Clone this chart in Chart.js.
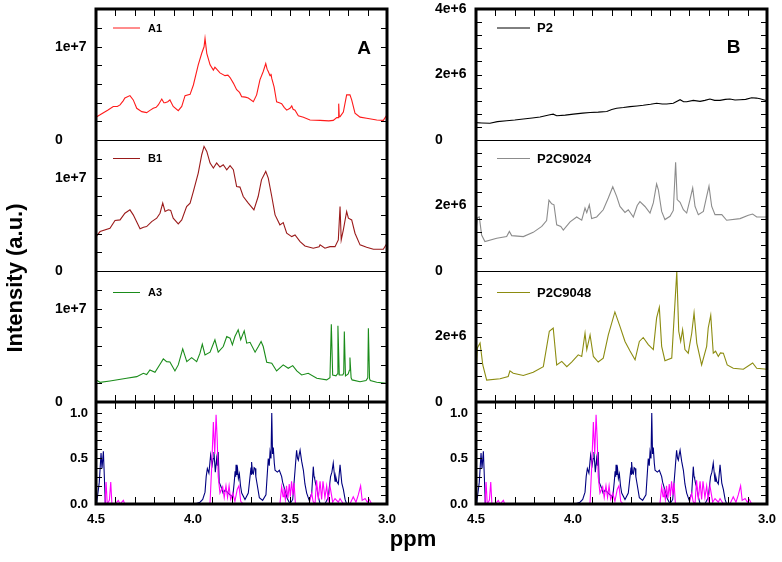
<!DOCTYPE html>
<html>
<head>
<meta charset="utf-8">
<script src="https://cdn.jsdelivr.net/npm/chart.js@4.4.0/dist/chart.umd.min.js"></script>
<style>
  body { margin: 0; background: #fff; width: 782px; height: 562px; position: relative; overflow: hidden;
         font-family: "Liberation Sans", Arial, sans-serif; }
  canvas { position: absolute; top: 0; }
  #chartA { left: 0; }
  #chartB { left: 391px; }
  .ytitle { position: absolute; left: -104.6px; top: 266.5px; width: 240px; height: 22px; line-height: 22px;
            text-align: center; font-weight: bold; font-size: 22px; transform: rotate(-90deg); }
  .xtitle { position: absolute; left: 313px; top: 528px; width: 200px; height: 22px; line-height: 22px;
            text-align: center; font-weight: bold; font-size: 22px; }
</style>
</head>
<body>
<canvas id="chartB" width="391" height="562"></canvas>
<canvas id="chartA" width="400" height="562"></canvas>
<div class="ytitle">Intensity (a.u.)</div>
<div class="xtitle">ppm</div>

<script>
// spectra as [ppm, intensity] ; A/B intensities in units of 1e6
const A1 = [[4.500,2.45],[4.479,2.7],[4.440,3.2],[4.411,3.6],[4.390,3.6],[4.376,3.76],[4.360,4.2],[4.351,4.5],[4.325,4.76],[4.308,4.3],[4.290,3.4],[4.264,3.04],[4.239,2.94],[4.220,3.2],[4.205,3.4],[4.190,3.5],[4.179,3.76],[4.161,4.4],[4.150,4.0],[4.144,4.0],[4.130,4.1],[4.119,4.3],[4.102,3.6],[4.076,3.15],[4.058,3.6],[4.041,4.76],[4.015,4.9],[3.998,5.9],[3.973,8.06],[3.955,9.3],[3.943,10.0],[3.938,10.9],[3.929,9.3],[3.912,8.06],[3.895,7.5],[3.887,7.8],[3.878,7.6],[3.861,7.2],[3.835,6.9],[3.820,6.95],[3.809,6.7],[3.792,6.1],[3.775,5.4],[3.760,5.1],[3.749,4.65],[3.730,4.6],[3.715,4.5],[3.689,4.1],[3.672,4.84],[3.655,6.45],[3.638,7.35],[3.625,8.2],[3.618,7.6],[3.612,7.35],[3.603,6.9],[3.598,7.1],[3.594,6.6],[3.582,5.7],[3.569,4.1],[3.555,4.0],[3.543,3.9],[3.530,3.5],[3.517,3.2],[3.500,3.4],[3.491,3.65],[3.484,3.3],[3.474,3.2],[3.457,2.6],[3.431,2.45],[3.397,2.15],[3.345,2.1],[3.300,2.05],[3.277,2.1],[3.259,2.4],[3.252,2.4],[3.249,3.9],[3.246,2.5],[3.242,2.5],[3.225,3.0],[3.208,4.84],[3.191,4.84],[3.182,4.3],[3.165,2.87],[3.139,2.45],[3.105,2.33],[3.053,2.15],[3.019,2.1],[3.000,2.7]];
const B1 = [[4.500,3.69],[4.479,4.23],[4.428,4.59],[4.402,5.41],[4.376,5.48],[4.351,6.2],[4.325,6.56],[4.308,6.02],[4.273,4.52],[4.255,4.7],[4.239,4.77],[4.213,5.3],[4.187,5.66],[4.170,6.2],[4.156,7.28],[4.144,6.38],[4.127,6.56],[4.115,6.5],[4.102,5.66],[4.076,5.05],[4.058,5.48],[4.033,6.91],[4.015,7.28],[3.998,8.53],[3.973,10.5],[3.955,12.47],[3.943,13.37],[3.929,12.83],[3.912,11.58],[3.895,11.04],[3.878,11.58],[3.861,11.15],[3.844,11.4],[3.826,10.86],[3.809,11.29],[3.792,10.86],[3.775,9.06],[3.758,9.0],[3.741,7.99],[3.715,7.28],[3.686,6.56],[3.664,7.99],[3.647,9.78],[3.625,10.68],[3.612,9.97],[3.594,7.99],[3.577,6.02],[3.552,4.95],[3.535,5.19],[3.517,4.05],[3.491,3.69],[3.474,3.87],[3.448,3.15],[3.423,2.69],[3.380,2.44],[3.350,2.6],[3.345,2.8],[3.320,2.44],[3.294,2.61],[3.268,2.61],[3.251,3.33],[3.242,6.91],[3.236,3.33],[3.225,4.41],[3.208,6.38],[3.199,5.66],[3.182,5.48],[3.165,4.05],[3.139,2.8],[3.105,2.55],[3.070,2.33],[3.019,2.33],[3.000,2.98]];
const A3 = [[4.500,2.37],[4.479,2.11],[4.428,2.26],[4.342,2.54],[4.290,2.72],[4.256,3.08],[4.239,2.95],[4.222,3.44],[4.196,3.19],[4.170,4.05],[4.153,4.62],[4.136,4.33],[4.119,4.3],[4.093,3.33],[4.076,3.98],[4.053,5.7],[4.032,4.33],[4.007,4.76],[3.981,4.33],[3.964,5.24],[3.952,6.2],[3.938,5.05],[3.912,5.34],[3.887,6.67],[3.870,5.34],[3.844,5.95],[3.826,7.02],[3.809,6.85],[3.797,6.13],[3.784,7.02],[3.767,7.74],[3.754,6.67],[3.736,7.63],[3.723,6.31],[3.706,6.4],[3.680,5.34],[3.663,5.95],[3.649,6.48],[3.638,5.95],[3.620,4.27],[3.594,4.16],[3.569,3.33],[3.535,3.98],[3.509,3.62],[3.486,3.9],[3.465,3.33],[3.440,2.9],[3.406,3.08],[3.362,2.54],[3.311,2.37],[3.294,2.6],[3.287,8.35],[3.280,2.9],[3.263,2.8],[3.256,3.0],[3.253,8.17],[3.246,2.9],[3.228,2.9],[3.223,3.1],[3.220,7.56],[3.214,2.8],[3.200,3.0],[3.194,3.4],[3.191,4.76],[3.185,2.6],[3.180,2.37],[3.139,2.18],[3.108,2.3],[3.099,2.6],[3.096,7.92],[3.090,2.5],[3.086,2.3],[3.053,2.11],[3.000,2.0]];
const P2 = [[4.500,0.53],[4.470,0.52],[4.428,0.51],[4.390,0.56],[4.342,0.59],[4.300,0.61],[4.256,0.64],[4.210,0.67],[4.170,0.70],[4.119,0.77],[4.102,0.79],[4.084,0.74],[4.040,0.76],[3.998,0.79],[3.950,0.82],[3.912,0.84],[3.870,0.85],[3.826,0.87],[3.800,0.93],[3.775,0.97],[3.740,0.99],[3.706,1.02],[3.670,1.04],[3.638,1.06],[3.600,1.09],[3.569,1.12],[3.540,1.10],[3.517,1.10],[3.483,1.12],[3.448,1.23],[3.430,1.17],[3.414,1.17],[3.380,1.21],[3.345,1.18],[3.320,1.21],[3.294,1.25],[3.270,1.21],[3.242,1.21],[3.215,1.24],[3.191,1.25],[3.165,1.22],[3.139,1.23],[3.110,1.24],[3.079,1.29],[3.055,1.28],[3.036,1.26],[3.000,1.20]];
const P2C9024 = [[4.500,1.21],[4.493,1.62],[4.483,1.65],[4.471,1.1],[4.454,0.9],[4.393,1.0],[4.342,1.05],[4.328,1.21],[4.316,1.08],[4.256,1.05],[4.205,1.18],[4.161,1.36],[4.136,1.54],[4.124,2.16],[4.110,2.05],[4.098,2.02],[4.084,1.41],[4.063,1.36],[4.050,1.25],[4.015,1.5],[3.981,1.65],[3.955,1.55],[3.938,1.92],[3.929,1.78],[3.916,2.02],[3.904,1.6],[3.878,1.65],[3.844,1.87],[3.818,2.23],[3.795,2.57],[3.775,2.28],[3.758,1.97],[3.732,1.79],[3.715,1.87],[3.689,1.65],[3.669,2.0],[3.655,2.12],[3.629,1.97],[3.603,1.77],[3.586,2.08],[3.569,2.66],[3.560,2.48],[3.543,1.82],[3.526,1.57],[3.500,1.67],[3.483,1.85],[3.471,3.32],[3.463,2.18],[3.448,2.1],[3.431,1.87],[3.414,1.77],[3.397,2.18],[3.383,2.54],[3.371,1.97],[3.354,1.72],[3.328,1.82],[3.311,2.28],[3.299,2.59],[3.285,1.97],[3.268,1.72],[3.233,1.72],[3.208,1.55],[3.139,1.6],[3.096,1.7],[3.074,1.74],[3.053,1.65],[3.000,1.65]];
const P2C9048 = [[4.500,0.83],[4.493,1.65],[4.479,1.8],[4.465,1.13],[4.445,0.67],[4.376,0.71],[4.334,0.78],[4.325,0.95],[4.308,0.88],[4.256,0.81],[4.205,0.91],[4.153,1.08],[4.122,2.16],[4.102,2.26],[4.084,1.13],[4.058,1.24],[4.032,1.08],[4.007,1.22],[3.973,1.44],[3.955,1.39],[3.938,2.1],[3.929,1.6],[3.912,2.05],[3.895,1.39],[3.870,1.22],[3.844,1.34],[3.818,2.05],[3.784,2.75],[3.758,2.31],[3.732,1.85],[3.706,1.56],[3.680,1.29],[3.658,1.85],[3.638,1.97],[3.612,1.75],[3.586,1.6],[3.569,2.57],[3.555,2.89],[3.543,1.7],[3.526,1.26],[3.491,1.34],[3.465,3.98],[3.455,2.16],[3.445,1.85],[3.435,2.21],[3.423,1.6],[3.406,1.49],[3.388,2.1],[3.376,2.72],[3.362,1.8],[3.337,1.13],[3.311,1.7],[3.303,2.26],[3.290,2.65],[3.277,1.49],[3.265,1.55],[3.251,1.39],[3.240,1.5],[3.225,1.49],[3.205,1.13],[3.174,1.03],[3.122,1.0],[3.074,1.19],[3.053,1.03],[3.000,1.0]];
// normalised reference spectra (bottom panels)
const navyRef = [[4.500,0],[4.496,0.02],[4.483,0.24],[4.474,0.56],[4.469,0.39],[4.462,0.58],[4.457,0.3],[4.452,0],[3.990,0],[3.964,0.02],[3.950,0.05],[3.938,0.13],[3.932,0.3],[3.926,0.39],[3.918,0.34],[3.913,0.45],[3.909,0.54],[3.901,0.43],[3.896,0.5],[3.892,0.57],[3.885,0.35],[3.878,0.5],[3.874,0.42],[3.870,0.57],[3.865,0.24],[3.852,0.17],[3.845,0.12],[3.835,0.15],[3.823,0.13],[3.809,0.1],[3.795,0.08],[3.787,0.25],[3.783,0.36],[3.780,0.3],[3.778,0.43],[3.774,0.32],[3.770,0.38],[3.766,0.28],[3.761,0.33],[3.755,0.2],[3.749,0.12],[3.732,0.05],[3.715,0.12],[3.706,0.3],[3.701,0.4],[3.699,0.32],[3.697,0.46],[3.693,0.34],[3.689,0.33],[3.685,0.4],[3.680,0.39],[3.676,0.3],[3.672,0.25],[3.658,0.07],[3.641,0.04],[3.624,0.1],[3.612,0.5],[3.607,0.42],[3.603,0.57],[3.598,0.5],[3.594,1.0],[3.590,0.55],[3.586,0.62],[3.581,0.45],[3.577,0.37],[3.565,0.35],[3.555,0.37],[3.543,0.3],[3.538,0.24],[3.526,0.15],[3.514,0.06],[3.500,0],[3.486,0.05],[3.474,0.37],[3.466,0.59],[3.461,0.5],[3.457,0.48],[3.452,0.55],[3.448,0.59],[3.440,0.47],[3.431,0.37],[3.423,0.22],[3.414,0.12],[3.401,0.04],[3.388,0.12],[3.380,0.41],[3.376,0.3],[3.373,0.28],[3.368,0.22],[3.363,0.19],[3.354,0.08],[3.345,0],[3.320,0],[3.303,0.07],[3.291,0.3],[3.284,0.35],[3.277,0.45],[3.268,0.25],[3.264,0.3],[3.259,0.25],[3.251,0.22],[3.242,0.43],[3.233,0.23],[3.225,0.16],[3.216,0.05],[3.208,0],[3.000,0]];
const magentaRef = [[4.500,0],[4.454,0],[4.448,0.24],[4.442,0],[4.431,0.04],[4.424,0.24],[4.418,0],[4.402,0],[4.385,0.04],[4.376,0],[4.359,0.04],[4.352,0],[3.915,0],[3.912,0.02],[3.904,0.39],[3.895,0.9],[3.888,0.55],[3.881,0.98],[3.875,0.7],[3.870,0.3],[3.861,0.12],[3.847,0.19],[3.839,0.07],[3.830,0.2],[3.822,0.07],[3.814,0.2],[3.806,0.05],[3.795,0.12],[3.784,0.03],[3.772,0.16],[3.763,0.2],[3.754,0.03],[3.741,0],[3.552,0],[3.543,0.19],[3.536,0.08],[3.531,0.17],[3.524,0.05],[3.518,0.2],[3.511,0.06],[3.504,0.22],[3.498,0.08],[3.492,0.25],[3.485,0.1],[3.479,0.23],[3.472,0],[3.402,0],[3.388,0.12],[3.381,0.03],[3.371,0],[3.363,0.26],[3.354,0.05],[3.345,0.25],[3.337,0.05],[3.330,0.25],[3.320,0.07],[3.311,0.2],[3.303,0.04],[3.294,0.2],[3.280,0.02],[3.268,0.06],[3.251,0.02],[3.242,0.06],[3.225,0],[3.191,0],[3.174,0.08],[3.160,0.02],[3.148,0.1],[3.136,0.2],[3.128,0.04],[3.113,0.06],[3.101,0.02],[3.091,0.05],[3.079,0],[3.000,0]];

// axis ticks
const xLabels = [4.5, 4.0, 3.5, 3.0];
const xMinor = [4.4, 4.3, 4.2, 4.1, 4.0, 3.9, 3.8, 3.7, 3.6, 3.5, 3.4, 3.3, 3.2, 3.1];
const aLabels = [0, 10];
const aMinor = [2, 4, 6, 8, 10, 12];
const bTopLabels = [0, 2, 4];
const bLabels = [0, 2];
const bMinor = [0.4, 0.8, 1.2, 1.6, 2.0, 2.4, 2.8, 3.2, 3.6];
const ratioLabels = [0, 0.5, 1.0];
const ratioMinor = [0.1, 0.2, 0.3, 0.4, 0.5, 0.6, 0.7, 0.8, 0.9, 1.0];

const FONT = '"Liberation Sans", Arial, sans-serif';
const pts = arr => arr.map(([x, y]) => ({ x, y }));

const panelFrames = {
  id: 'panelFrames',
  afterDatasetsDraw(chart, args, o) {
    const ctx = chart.ctx, a = chart.chartArea, xs = chart.scales.x;
    const seg = (x1, y1, x2, y2) => { ctx.beginPath(); ctx.moveTo(x1, y1); ctx.lineTo(x2, y2); ctx.stroke(); };
    ctx.save();
    ctx.strokeStyle = '#000';
    ctx.lineWidth = 1;
    o.panels.forEach(p => {
      const s = chart.scales[p.axis];
      p.minor.forEach(v => {
        const y = Math.round(s.getPixelForValue(v)) + 0.5;
        seg(a.left, y, a.left + 6, y);
        seg(a.right - 6, y, a.right, y);
      });
    });
    const p3 = chart.scales[o.panels[2].axis];
    const tickRow = (y, dir) => xMinor.forEach(v => {
      const x = Math.round(xs.getPixelForValue(v)) + 0.5;
      seg(x, y, x, y + dir * 7);
    });
    tickRow(a.top, 1);
    tickRow(p3.bottom, -1);
    tickRow(p3.bottom, 1);
    tickRow(a.bottom, -1);
    [o.panels[0], o.panels[1]].forEach(p => {
      const y = Math.round(chart.scales[p.axis].bottom) + 0.5;
      seg(a.left, y, a.right, y);
    });
    ctx.lineWidth = 3;
    seg(a.left, p3.bottom, a.right, p3.bottom);
    ctx.strokeRect(a.left, a.top, a.right - a.left, a.bottom - a.top);

    // legends
    const lg = o.legend;
    o.panels.forEach(p => {
      if (!p.label) return;
      const s = chart.scales[p.axis];
      const y = s.top + p.ly;
      ctx.strokeStyle = p.color;
      ctx.lineWidth = 1;
      seg(a.left + lg.x0, y, a.left + lg.x1, y);
      ctx.fillStyle = '#000';
      ctx.font = lg.font;
      ctx.textAlign = 'left';
      ctx.textBaseline = 'middle';
      ctx.fillText(p.label, a.left + lg.tx, y + 0.5);
    });
    ctx.fillStyle = '#000';
    ctx.font = 'bold 19px ' + FONT;
    ctx.textAlign = 'center';
    ctx.textBaseline = 'middle';
    ctx.fillText(o.letter.text, a.right + o.letter.dx, a.top + o.letter.dy);
    ctx.restore();
  }
};

function yAxis(max, weight, labels, upper, fmt) {
  return {
    type: 'linear', position: 'left', stack: 'col', stackWeight: weight,
    min: 0, max: max,
    grid: { display: false, drawTicks: false }, border: { display: false },
    afterBuildTicks: s => { s.ticks = labels.map(v => ({ value: v })); },
    afterFit: s => { s.width = 41; s.paddingTop = 0; s.paddingBottom = 0; },
    ticks: {
      color: '#000', padding: 8, autoSkip: false,
      crossAlign: upper ? 'far' : 'near',
      font: { family: FONT, size: upper ? 14 : 13, weight: 'bold' },
      callback: fmt
    }
  };
}
const fmtExp = v => v === 0 ? '0' : (v * 1e6).toExponential(0);
const fmtRatio = v => v.toFixed(1);

function makeChart(id, cfg) {
  const line = (data, color, axis) => ({
    data: pts(data), borderColor: color, borderWidth: 1.1, pointRadius: 0, tension: 0, yAxisID: axis
  });
  return new Chart(document.getElementById(id), {
    type: 'line',
    data: {
      datasets: [
        line(magentaRef, '#ff00ff', 'yRatio'),
        line(navyRef, '#000080', 'yRatio'),
        line(cfg.series[2].data, cfg.series[2].color, 'yP3'),
        line(cfg.series[1].data, cfg.series[1].color, 'yP2'),
        line(cfg.series[0].data, cfg.series[0].color, 'yP1')
      ]
    },
    options: {
      responsive: false, animation: false, events: [],
      layout: { autoPadding: false, padding: cfg.padding },
      scales: {
        x: {
          type: 'linear', position: 'bottom', min: 3.0, max: 4.5, reverse: true,
          grid: { display: false, drawTicks: false }, border: { display: false },
          afterBuildTicks: s => { s.ticks = xLabels.map(v => ({ value: v })); },
          afterFit: s => { s.height = 30; s.paddingLeft = 0; s.paddingRight = 0; },
          ticks: { color: '#000', padding: 8, maxRotation: 0, autoSkip: false,
                   font: { family: FONT, size: 13, weight: 'bold' }, callback: v => v.toFixed(1) }
        },
        yRatio: yAxis(1.12, 102, ratioLabels, false, fmtRatio),
        yP3: yAxis(cfg.max, 131, cfg.lowLabels, true, fmtExp),
        yP2: yAxis(cfg.max, 131, cfg.lowLabels, true, fmtExp),
        yP1: yAxis(cfg.max, 131, cfg.topLabels, true, fmtExp)
      },
      plugins: {
        legend: { display: false },
        tooltip: { enabled: false },
        panelFrames: {
          legend: cfg.legend,
          letter: cfg.letter,
          panels: [
            { axis: 'yP1', minor: cfg.minor, label: cfg.series[0].name, color: cfg.series[0].color, ly: 19 },
            { axis: 'yP2', minor: cfg.minor, label: cfg.series[1].name, color: cfg.series[1].color, ly: 18.5 },
            { axis: 'yP3', minor: cfg.minor, label: cfg.series[2].name, color: cfg.series[2].color, ly: 21.5 },
            { axis: 'yRatio', minor: ratioMinor }
          ]
        }
      }
    },
    plugins: [panelFrames]
  });
}

makeChart('chartA', {
  padding: { left: 55, top: 9, right: 13, bottom: 28 },
  max: 14.05, topLabels: aLabels, lowLabels: aLabels, minor: aMinor,
  series: [
    { name: 'A1', data: A1, color: '#ff1a1a' },
    { name: 'B1', data: B1, color: '#9a1a1a' },
    { name: 'A3', data: A3, color: '#1a8c1a' }
  ],
  legend: { x0: 17, x1: 44, tx: 52, font: 'bold 11px ' + FONT },
  letter: { text: 'A', dx: -23, dy: 40 }
});

makeChart('chartB', {
  padding: { left: 44, top: 9, right: 15, bottom: 28 },
  max: 4.0, topLabels: bTopLabels, lowLabels: bLabels, minor: bMinor,
  series: [
    { name: 'P2', data: P2, color: '#000000' },
    { name: 'P2C9024', data: P2C9024, color: '#8c8c8c' },
    { name: 'P2C9048', data: P2C9048, color: '#8c8c10' }
  ],
  legend: { x0: 21, x1: 54, tx: 61, font: 'bold 13px ' + FONT },
  letter: { text: 'B', dx: -33.5, dy: 39 }
});
</script>
</body>
</html>
